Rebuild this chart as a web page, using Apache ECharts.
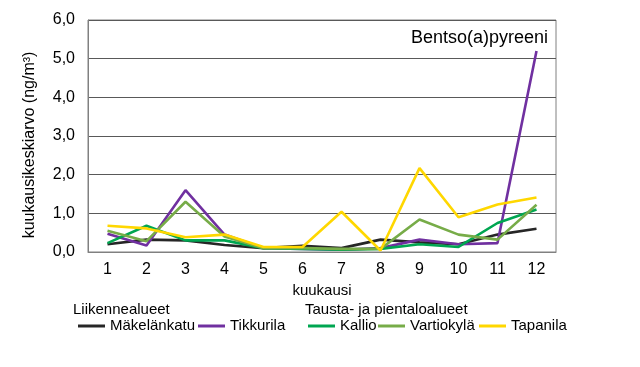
<!DOCTYPE html>
<html>
<head>
<meta charset="utf-8">
<script src="https://cdn.jsdelivr.net/npm/echarts@6/dist/echarts.min.js"></script>
<style>html,body{margin:0;padding:0;background:#fff}#c{width:640px;height:367px}</style>
</head>
<body>
<div id="c"></div>
<script>
const months = ['1','2','3','4','5','6','7','8','9','10','11','12'];
const makelankatu = [0.2, 0.32, 0.3, 0.18, 0.1, 0.16, 0.1, 0.32, 0.25, 0.2, 0.45, 0.6];
const tikkurila   = [0.47, 0.17, 1.6, 0.45, 0.1, 0.08, 0.06, 0.1, 0.32, 0.2, 0.23, 5.2];
const kallio      = [0.23, 0.68, 0.3, 0.3, 0.1, 0.08, 0.06, 0.08, 0.2, 0.13, 0.75, 1.1];
const vartiokyla  = [0.55, 0.28, 1.3, 0.4, 0.1, 0.1, 0.08, 0.08, 0.84, 0.45, 0.32, 1.22];
const tapanila    = [0.68, 0.61, 0.38, 0.45, 0.13, 0.13, 1.04, 0.04, 2.17, 0.9, 1.23, 1.41];
const yTicks = [0, 1, 2, 3, 4, 5, 6];

const font = 'Liberation Sans, Arial, sans-serif';
const chart = echarts.init(document.getElementById('c'), null, {renderer: 'canvas'});
function ser(name, data, color) {
  return {name, type: 'line', data, symbol: 'none', lineStyle: {width: 2.6, color}, itemStyle: {color}, z: 3};
}
function leg(name, left) {
  return {data: [name], left, top: 313.5, icon: 'rect', itemWidth: 27, itemHeight: 3,
    textStyle: {fontFamily: font, fontSize: 15, color: '#000'}};
}
chart.setOption({
  animation: false,
  grid: {left: 88, right: 84, top: 20, bottom: 115, show: true, borderColor: '#808080', borderWidth: 1},
  title: {text: 'Bentso(a)pyreeni', right: 87, top: 24, textStyle: {fontFamily: font, fontSize: 18, fontWeight: 'normal', color: '#000'}},
  xAxis: {
    type: 'category', data: months, boundaryGap: true,
    name: 'kuukausi', nameLocation: 'middle', nameGap: 26,
    nameTextStyle: {fontFamily: font, fontSize: 15, color: '#000'},
    axisLine: {lineStyle: {color: '#808080'}}, axisTick: {show: false},
    axisLabel: {fontFamily: font, fontSize: 16, color: '#000', margin: 10}
  },
  yAxis: {
    type: 'value', min: yTicks[0], max: yTicks[yTicks.length - 1], interval: 1,
    axisLine: {show: true, lineStyle: {color: '#808080'}}, axisTick: {show: false},
    splitLine: {lineStyle: {color: '#595959', width: 1}},
    axisLabel: {fontFamily: font, fontSize: 16, color: '#000', margin: 13, formatter: v => v.toFixed(1).replace('.', ',')}
  },
  legend: [
    leg('Mäkelänkatu', 73),
    leg('Tikkurila', 193),
    leg('Kallio', 303),
    leg('Vartiokylä', 373),
    leg('Tapanila', 474)
  ],
  graphic: [
    {type: 'text', left: 73, top: 302, style: {text: 'Liikennealueet', font: '15px ' + font, fill: '#000'}},
    {type: 'text', left: 305, top: 302, style: {text: 'Tausta- ja pientaloalueet', font: '15px ' + font, fill: '#000'}},
    {type: 'text', x: 30, y: 145, rotation: Math.PI / 2,
     style: {text: 'kuukausikeskiarvo (ng/m³)', font: '16px ' + font, fill: '#000', align: 'center', verticalAlign: 'middle'}}
  ],
  series: [
    ser('Mäkelänkatu', makelankatu, '#262626'),
    ser('Tikkurila', tikkurila, '#7030A0'),
    ser('Kallio', kallio, '#00A651'),
    ser('Vartiokylä', vartiokyla, '#77AC48'),
    ser('Tapanila', tapanila, '#FFD700')
  ]
});
</script>
</body>
</html>
